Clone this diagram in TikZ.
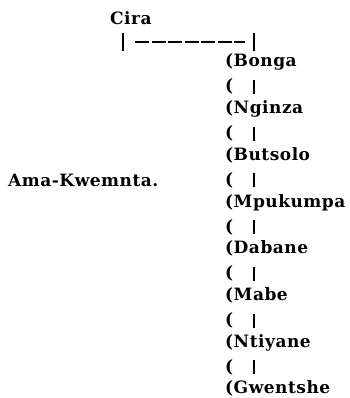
\documentclass[tikz,border=0pt]{standalone}
\usepackage{fontspec}
\setmainfont{DejaVu Serif}[LetterSpace=3]
\begin{document}
\begin{tikzpicture}[x=1pt,y=-1pt,
  lbl/.style={anchor=base west, inner sep=0pt, font=\fontsize{17}{20}\selectfont\bfseries},
  barln/.style={line width=1.8pt},
  dashln/.style={line width=1.4pt, dash pattern=on 14pt off 2.5pt}]
\useasboundingbox (0,0) rectangle (349,398);
\node[lbl] (cira) at (110,25) {Cira};
\coordinate (lt) at (123,33);
\coordinate (lb) at (123,51);
\coordinate (rt) at (254,33);
\coordinate (rb) at (254,51);
\coordinate (ds) at (135,42);
\coordinate (de) at (245,42);
\draw[barln] (lt) -- (lb);
\draw[barln] (rt) -- (rb);
\draw[dashln] (ds) -- (de);
\foreach \n [count=\i from 0] in {Bonga,Nginza,Butsolo,Mpukumpa,Dabane,Mabe,Ntiyane,Gwentshe}{
  \node[lbl] (n\i) at (225,67+46.7*\i) {(\n};
}
\foreach \i in {0,...,6}{
  \node[lbl] (p\i) at (225,67+46.7*\i+25) {(};
  \coordinate (bt\i) at (254,67+46.7*\i+13);
  \coordinate (bb\i) at (254,67+46.7*\i+27);
  \draw[barln] (bt\i) -- (bb\i);
}
\node[lbl] (ama) at (8,186) {Ama-Kwemnta.};
\end{tikzpicture}
\end{document}
